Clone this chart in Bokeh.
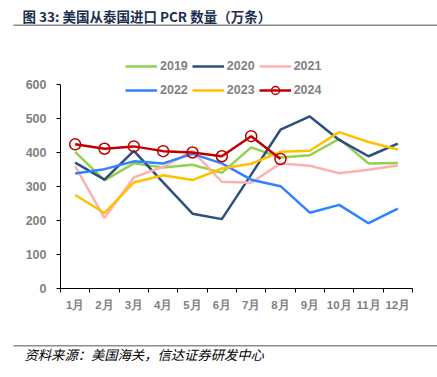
from bokeh.plotting import figure
from bokeh.layouts import column
from bokeh.models import (Range1d, FixedTicker, Legend, LegendItem, Label)
from bokeh.embed import file_html
from bokeh.resources import INLINE

months = ["1月", "2月", "3月", "4月", "5月", "6月", "7月", "8月", "9月", "10月", "11月", "12月"]
y2019 = [402, 318, 368, 356, 364, 340, 415, 385, 392, 440, 368, 369]
y2020 = [370, 320, 405, 312, 220, 204, 335, 467, 506, 437, 389, 426]
y2021 = [360, 207, 327, 358, 405, 314, 311, 368, 361, 339, 349, 362]
y2022 = [338, 351, 374, 368, 396, 368, 320, 301, 223, 246, 192, 235]
y2023 = [275, 222, 312, 333, 319, 353, 367, 402, 405, 460, 431, 409]
y2024 = [424, 411, 418, 404, 400, 389, 448, 381]
y_ticks = [0, 100, 200, 300, 400, 500, 600]
title_text = "图 33:  美国从泰国进口 PCR 数量（万条）"
source_text = "资料来源：美国海关，信达证券研发中心"

W = 437
HEAD_H, MAIN_H, FOOT_H = 40, 295, 42
RULE_X0 = 13
RULE_COLOR = "#8C8C8C"


def blank(h):
    f = figure(width=W, height=h, output_backend="svg", toolbar_location=None,
               x_range=Range1d(0, W), y_range=Range1d(0, h),
               x_axis_type=None, y_axis_type=None, frame_align=False,
               min_border_left=0, min_border_right=0, min_border_top=0, min_border_bottom=0)
    f.outline_line_color = None
    f.xgrid.visible = False
    f.ygrid.visible = False
    f.background_fill_color = "white"
    f.border_fill_color = "white"
    return f


def add_rule(f, h, y_from_top):
    f.segment(x0=[RULE_X0], y0=[h - y_from_top], x1=[W], y1=[h - y_from_top],
              line_color=RULE_COLOR, line_width=1.5)


# header
head = blank(HEAD_H)
head.add_layout(Label(x=22, y=HEAD_H - 15, text=title_text, text_font="Noto Sans CJK SC",
                      text_font_style="bold", text_font_size="13.5px", text_color="#1A2E50",
                      text_baseline="middle"))
add_rule(head, HEAD_H, 24.75)

# main chart
p = figure(width=W, height=MAIN_H, output_backend="svg", toolbar_location=None,
           x_range=Range1d(0, len(months)), y_range=Range1d(0, 700), frame_align=False,
           min_border_left=60, min_border_right=25, min_border_top=10,
           min_border_bottom=47)
p.outline_line_color = None
p.xgrid.visible = False
p.ygrid.visible = False
p.background_fill_color = "white"

xs = [i + 0.5 for i in range(len(months))]

TICK_COLOR = "#7f7f7f"
xa = p.xaxis[0]
xa.ticker = FixedTicker(ticks=xs, minor_ticks=list(range(len(months) + 1)))
xa.major_label_overrides = {x: m for x, m in zip(xs, months)}
xa.major_tick_out = 0
xa.major_tick_in = 0
xa.minor_tick_out = 4
xa.minor_tick_in = 0
xa.minor_tick_line_color = "black"
xa.axis_line_color = "black"
xa.major_label_text_color = TICK_COLOR
xa.major_label_text_font = "Liberation Sans"
xa.major_label_text_font_style = "bold"
xa.major_label_text_font_size = "11.5px"
xa.major_label_standoff = 6

ya = p.yaxis[0]
ya.ticker = FixedTicker(ticks=y_ticks)
ya.bounds = (0, 600)
ya.minor_tick_line_color = None
ya.major_tick_out = 4
ya.major_tick_in = 0
ya.axis_line_color = "black"
ya.major_tick_line_color = "black"
ya.major_label_text_color = TICK_COLOR
ya.major_label_text_font = "Liberation Sans"
ya.major_label_text_font_style = "bold"
ya.major_label_text_font_size = "12.5px"
ya.major_label_standoff = 10

series = [
    ("2019", y2019, "#92D050"),
    ("2020", y2020, "#2F4D7D"),
    ("2021", y2021, "#FFB0B0"),
    ("2022", y2022, "#2E83FF"),
    ("2023", y2023, "#FFC000"),
]
items = []
for name, ys, col in series:
    r = p.line(xs[:len(ys)], ys, line_color=col, line_width=2.5)
    items.append(LegendItem(label=name, renderers=[r]))
r24 = p.line(xs[:len(y2024)], y2024, line_color="#C00000", line_width=2.5)
s24 = p.scatter(xs[:len(y2024)], y2024, marker="circle", size=11, line_color="#C00000",
                line_width=1.5, fill_alpha=0)
items.append(LegendItem(label="2024", renderers=[r24, s24]))

leg = Legend(items=items, ncols=3, orientation="horizontal", location=(65, 188),
             glyph_width=32, glyph_height=20, label_standoff=3, spacing=4,
             padding=0, margin=0, border_line_color=None, background_fill_alpha=0,
             label_text_color=TICK_COLOR, label_text_font="Liberation Sans",
             label_text_font_style="bold", label_text_font_size="12.5px")
p.add_layout(leg, "center")

# footer
foot = blank(FOOT_H)
add_rule(foot, FOOT_H, 10.25)
foot.add_layout(Label(x=24, y=FOOT_H - 19, text=source_text, text_font="Noto Sans CJK SC",
                      text_font_style="italic", text_font_size="13.3px", text_color="black",
                      text_baseline="middle"))

layout = column(head, p, foot, spacing=0)
open("out.html", "w").write(file_html(layout, INLINE))
